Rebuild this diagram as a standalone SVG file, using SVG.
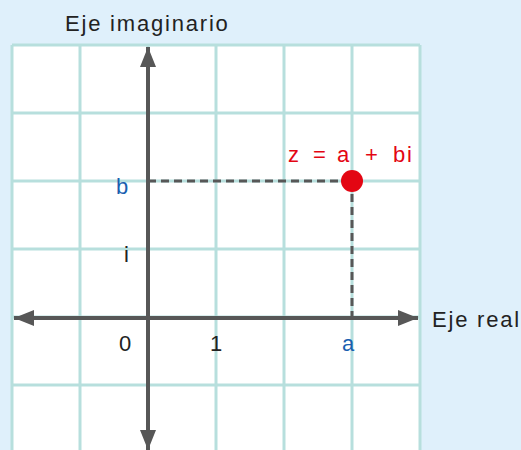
<svg xmlns="http://www.w3.org/2000/svg" width="521" height="450" viewBox="0 0 521 450">
<defs>
<style>
.grid{stroke:#b7dfdd;stroke-width:3;fill:none}
.axis{stroke:#575757;stroke-width:4;fill:none}
.dash{stroke:#575757;stroke-width:3;stroke-dasharray:8 5;fill:none}
.t{font-family:"Liberation Sans",Arial,sans-serif;font-size:22px;fill:#222;letter-spacing:1.8px}
.blue{fill:#1a5fb0}
.red{fill:#e30613}
</style>
<marker id="ah" viewBox="0 0 20 16" refX="20" refY="8" markerWidth="20" markerHeight="16" markerUnits="userSpaceOnUse" orient="auto-start-reverse">
<path d="M0,0 L20,8 L0,16 Z" fill="#575757"/>
</marker>
</defs>
<rect width="521" height="450" fill="#dff0fb"/>
<g id="grid">
<rect x="12" y="45" width="408" height="410" fill="#ffffff"/>
<path class="grid" d="M12,45V450M80,45V450M148,45V450M216,45V450M284,45V450M352,45V450M420,45V450M12,45H420M12,113H420M12,181H420M12,249H420M12,317H420M12,385H420"/>
</g>
<g id="connectors">
<line class="dash" x1="148" y1="181" x2="352" y2="181"/>
<line class="dash" x1="352" y1="181" x2="352" y2="317"/>
<line class="axis" x1="14" y1="318" x2="418" y2="318" marker-start="url(#ah)" marker-end="url(#ah)"/>
<line class="axis" x1="148" y1="450" x2="148" y2="47" marker-start="url(#ah)" marker-end="url(#ah)"/>
</g>
<g id="point">
<circle cx="352" cy="181" r="11" fill="#e30613"/>
<text class="t red" y="162"><tspan x="288">z</tspan><tspan x="313">=</tspan><tspan x="337">a</tspan><tspan x="365">+</tspan><tspan x="393">bi</tspan></text>
</g>
<g id="labels">
<text class="t" x="65" y="31">Eje imaginario</text>
<text class="t" x="432" y="327">Eje real</text>
<text class="t blue" x="116" y="194">b</text>
<text class="t" x="124" y="262">i</text>
<text class="t" x="119" y="351">0</text>
<text class="t" x="210" y="351">1</text>
<text class="t blue" x="342" y="351">a</text>
</g>
</svg>
